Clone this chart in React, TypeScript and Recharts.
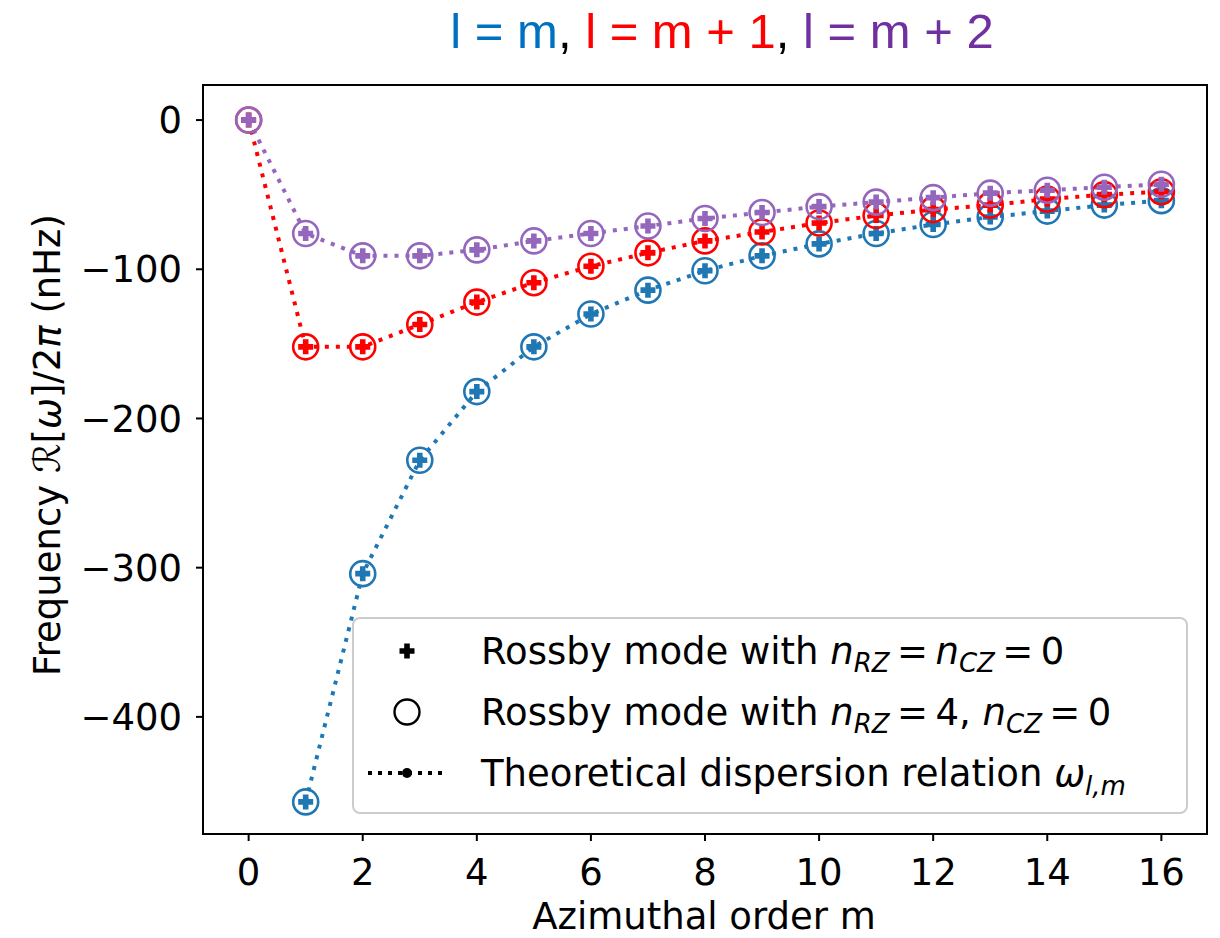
import React from 'react';
import { LineChart, Line, XAxis, YAxis, ReferenceArea, Legend } from 'recharts';

const mValues = [0, 1, 2, 3, 4, 5, 6, 7, 8, 9, 10, 11, 12, 13, 14, 15, 16];
const lEqualsM = [null, -457, -304, -228, -182, -152, -130, -114, -101, -91, -83, -76, -70, -65, -61, -57, -54];
const lEqualsMPlus1 = [0, -152, -152, -137, -122, -109, -98, -89, -81, -75, -69, -64, -60, -57, -53, -50, -48];
const lEqualsMPlus2 = [0, -76, -91, -91, -87, -81, -76, -71, -66, -62, -58, -55, -52, -49, -47, -45, -43];
const xTicks = [0, 2, 4, 6, 8, 10, 12, 14, 16];
const yTicks = [-400, -300, -200, -100, 0];

const data = mValues.map((m, i) => ({
  m,
  lm: lEqualsM[i],
  lm1: lEqualsMPlus1[i],
  lm2: lEqualsMPlus2[i],
}));

const FONT = "'DejaVu Sans', sans-serif";
const BLUE = '#1f77b4';
const RED = '#ff0000';
const PURPLE = '#9467bd';

const plusPath = (cx: number, cy: number, a = 7.5, b = 2.8) =>
  `M${cx - b},${cy - a}H${cx + b}V${cy - b}H${cx + a}V${cy + b}H${cx + b}V${cy + a}H${cx - b}V${cy + b}H${cx - a}V${cy - b}H${cx - b}Z`;

const makeDot = (color: string, id: string) => (props: any) => {
  const { cx, cy, index, value } = props;
  if (cx == null || cy == null || value == null || Number.isNaN(cy)) return <g key={`${id}-${index}`} />;
  return (
    <g key={`${id}-${index}`}>
      <path d={plusPath(cx, cy)} fill={color} />
      <circle cx={cx} cy={cy} r={12.5} fill="none" stroke={color} strokeWidth={2.6} />
    </g>
  );
};

const fmt = (v: number) => String(v).replace('-', '\u2212');

const XLabel = () => (
  <text x={704} y={929} textAnchor="middle" fontFamily={FONT} fontSize={37} fill="#000">
    Azimuthal order m
  </text>
);

const YLabel = () => (
  <text
    x={60}
    y={445}
    transform="rotate(-90 60 445)"
    textAnchor="middle"
    fontFamily={FONT}
    fontSize={37}
    fill="#000"
  >
    <tspan>Frequency </tspan>
    <tspan fontFamily="'DejaVu Sans', serif">{'\u211B'}</tspan>
    <tspan>[</tspan>
    <tspan fontStyle="italic">ω</tspan>
    <tspan>]/2</tspan>
    <tspan fontStyle="italic">π</tspan>
    <tspan> (nHz)</tspan>
  </text>
);

const LegendBox = () => {
  const W = 834;
  const H = 195;
  const mx = 55;
  const tx = 129;
  const rows = [34, 95, 156];
  const fs = 37;
  const sub = 26;
  return (
    <svg width={W + 4} height={H + 4} style={{ display: 'block' }}>
      <rect x={1} y={1} width={W} height={H} rx={7} ry={7} fill="#fff" fillOpacity={0.85} stroke="#cccccc" strokeWidth={2} />
      <path d={plusPath(mx, rows[0])} fill="#000" />
      <circle cx={mx} cy={rows[1]} r={12.5} fill="none" stroke="#000" strokeWidth={2.4} />
      <line x1={16} y1={rows[2]} x2={96} y2={rows[2]} stroke="#000" strokeWidth={4} strokeDasharray="4 6" />
      <circle cx={mx} cy={rows[2]} r={5} fill="#000" />
      <text x={tx} y={rows[0] + 13} fontFamily={FONT} fontSize={fs} fill="#000">
        <tspan>Rossby mode with </tspan>
        <tspan fontStyle="italic">n</tspan>
        <tspan fontStyle="italic" fontSize={sub} dy={8}>RZ</tspan>
        <tspan dy={-8}>{'\u2009=\u2009'}</tspan>
        <tspan fontStyle="italic">n</tspan>
        <tspan fontStyle="italic" fontSize={sub} dy={8}>CZ</tspan>
        <tspan dy={-8}>{'\u2009=\u20090'}</tspan>
      </text>
      <text x={tx} y={rows[1] + 13} fontFamily={FONT} fontSize={fs} fill="#000">
        <tspan>Rossby mode with </tspan>
        <tspan fontStyle="italic">n</tspan>
        <tspan fontStyle="italic" fontSize={sub} dy={8}>RZ</tspan>
        <tspan dy={-8}>{'\u2009=\u20094, '}</tspan>
        <tspan fontStyle="italic">n</tspan>
        <tspan fontStyle="italic" fontSize={sub} dy={8}>CZ</tspan>
        <tspan dy={-8}>{'\u2009=\u20090'}</tspan>
      </text>
      <text x={tx} y={rows[2] + 13} fontFamily={FONT} fontSize={fs} fill="#000">
        <tspan>Theoretical dispersion relation </tspan>
        <tspan fontStyle="italic">ω</tspan>
        <tspan fontStyle="italic" fontSize={sub} dy={9}>l,m</tspan>
      </text>
    </svg>
  );
};

export default function App() {
  return (
    <div style={{ position: 'absolute', left: 0, top: 0, width: 1220, height: 938, background: '#fff', overflow: 'hidden' }}>
      <div
        style={{
          position: 'absolute',
          left: 444,
          top: 7,
          width: 556,
          textAlign: 'center',
          fontFamily: "'Liberation Sans', Arial, sans-serif",
          fontSize: 49,
          lineHeight: '48px',
          whiteSpace: 'nowrap',
          zIndex: 2,
        }}
      >
        <span style={{ color: '#0070C0' }}>l = m</span>
        <span style={{ color: '#000' }}>, </span>
        <span style={{ color: '#FF0000' }}>l = m + 1</span>
        <span style={{ color: '#000' }}>, </span>
        <span style={{ color: '#7030A0' }}>l = m + 2</span>
      </div>
      <LineChart width={1220} height={938} data={data} margin={{ top: 85, right: 13, bottom: 44, left: 53 }}>
        <XAxis
          dataKey="m"
          type="number"
          domain={[-0.8, 16.8]}
          ticks={xTicks}
          interval={0}
          allowDataOverflow
          height={60}
          tickSize={7}
          tickMargin={18}
          axisLine={{ stroke: '#000', strokeWidth: 2 }}
          tickLine={{ stroke: '#000', strokeWidth: 2 }}
          tick={{ fill: '#000', fontSize: 37, fontFamily: FONT }}
          label={XLabel}
        />
        <YAxis
          type="number"
          domain={[-478.5, 23.5]}
          ticks={yTicks}
          interval={0}
          allowDataOverflow
          width={150}
          tickSize={7}
          tickMargin={14}
          tickFormatter={fmt}
          axisLine={{ stroke: '#000', strokeWidth: 2 }}
          tickLine={{ stroke: '#000', strokeWidth: 2 }}
          tick={{ fill: '#000', fontSize: 37, fontFamily: FONT }}
          label={YLabel}
        />
        <ReferenceArea
          x1={-0.8}
          x2={16.8}
          y1={-478.5}
          y2={23.5}
          fill="none"
          stroke="#000"
          strokeWidth={2}
          ifOverflow="visible"
        />
        <Line
          type="linear"
          dataKey="lm"
          stroke={BLUE}
          strokeWidth={4}
          strokeDasharray="4 7"
          dot={makeDot(BLUE, 'b')}
          activeDot={false}
          isAnimationActive={false}
        />
        <Line
          type="linear"
          dataKey="lm1"
          stroke={RED}
          strokeWidth={4}
          strokeDasharray="4 7"
          dot={makeDot(RED, 'r')}
          activeDot={false}
          isAnimationActive={false}
        />
        <Line
          type="linear"
          dataKey="lm2"
          stroke={PURPLE}
          strokeWidth={4}
          strokeDasharray="4 7"
          dot={makeDot(PURPLE, 'p')}
          activeDot={false}
          isAnimationActive={false}
        />
        <Legend
          layout="horizontal"
          verticalAlign="middle"
          align="center"
          content={LegendBox}
          wrapperStyle={{ position: 'absolute', left: 352, top: 617, width: 838, height: 199 }}
        />
      </LineChart>
    </div>
  );
}
